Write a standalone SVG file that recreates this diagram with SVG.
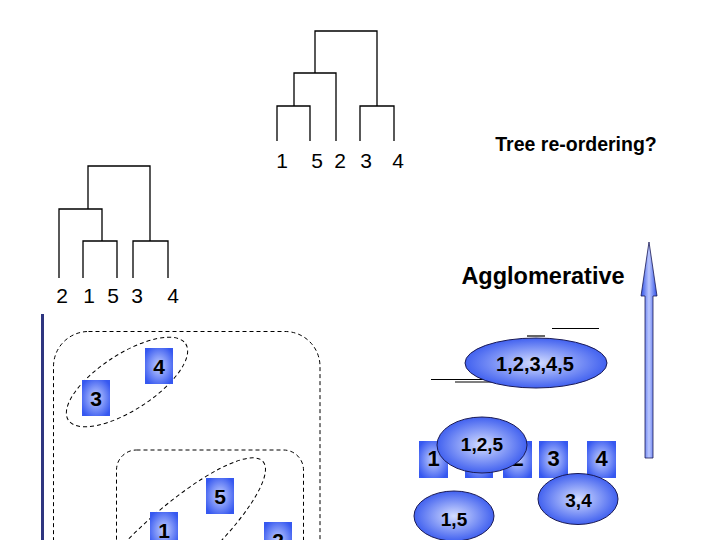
<svg xmlns="http://www.w3.org/2000/svg" width="720" height="540" viewBox="0 0 720 540">
<defs>
<radialGradient id="sq" cx="50%" cy="50%" r="60%">
<stop offset="0" stop-color="#c4d0ff"/>
<stop offset="1" stop-color="#3658f0"/>
</radialGradient>
<radialGradient id="el" cx="50%" cy="50%" r="55%">
<stop offset="0" stop-color="#d4ddff"/>
<stop offset="1" stop-color="#3355ee"/>
</radialGradient>
<linearGradient id="ar" x1="0" y1="0" x2="1" y2="0">
<stop offset="0" stop-color="#2f50e6"/>
<stop offset="0.5" stop-color="#bcc8ff"/>
<stop offset="1" stop-color="#2f50e6"/>
</linearGradient>
</defs>
<style>
.tree{fill:none;stroke:#000;stroke-width:1.3}
.lbl{font-family:"Liberation Sans",Arial,sans-serif;font-size:21px;fill:#000;text-anchor:middle}
.b{font-family:"Liberation Sans",Arial,sans-serif;font-weight:bold;fill:#000;text-anchor:middle}
.sq{fill:url(#sq)}
.el{fill:url(#el);stroke:#1a1a55;stroke-width:1}
.dash{fill:none;stroke:#000;stroke-width:1;stroke-dasharray:4 3}
.ln{stroke:#000;stroke-width:1.2}
</style>
<rect width="720" height="540" fill="#fff"/>

<g id="tree-top">
<path class="tree" d="M315,73 V31 H377 V106 M294,106 V73 H336 V141 M277,141 V106 H310 V141 M360,141 V106 H394 V141"/>
<text class="lbl" x="282" y="168">1</text>
<text class="lbl" x="317" y="168">5</text>
<text class="lbl" x="340" y="168">2</text>
<text class="lbl" x="366" y="168">3</text>
<text class="lbl" x="398" y="168">4</text>
</g>

<g id="tree-left">
<path class="tree" d="M88,209 V166 H150 V241 M59,278 V209 H102 V241 M83,278 V241 H117 V278 M133,278 V241 H168 V278"/>
<text class="lbl" x="62" y="303">2</text>
<text class="lbl" x="89" y="303">1</text>
<text class="lbl" x="113" y="303">5</text>
<text class="lbl" x="137" y="303">3</text>
<text class="lbl" x="173" y="303">4</text>
</g>

<g id="title">
<text class="b" x="576" y="151" font-size="19.5">Tree re-ordering?</text>
</g>
<g id="agglomerative">
<text class="b" x="543" y="284" font-size="23.5">Agglomerative</text>
</g>

<g id="arrow">
<path d="M645,458 V296 H641 L649,242 L657,296 H653 V458 Z" fill="url(#ar)" stroke="#1a1a55" stroke-width="0.8"/>
</g>

<g id="bar">
<line x1="42.5" y1="314" x2="42.5" y2="540" stroke="#2e3580" stroke-width="3"/>
</g>

<g id="divisive-regions">
<rect class="dash" x="53.5" y="331.5" width="266.5" height="260" rx="35" ry="35"/>
<rect class="dash" x="116.5" y="450" width="187" height="140" rx="20" ry="20"/>
<ellipse class="dash" cx="127" cy="382" rx="70" ry="28" transform="rotate(-33 127 382)"/>
<ellipse class="dash" cx="170" cy="545" rx="125" ry="33" transform="rotate(-42 170 545)"/>
</g>

<g id="L4"><rect class="sq" x="145" y="348" width="28" height="36"/><text class="b" x="159" y="374" font-size="21">4</text></g>
<g id="L3"><rect class="sq" x="82" y="380" width="28" height="36"/><text class="b" x="96" y="406" font-size="21">3</text></g>
<g id="L5"><rect class="sq" x="206" y="478" width="28" height="36"/><text class="b" x="220" y="504" font-size="21">5</text></g>
<g id="L1"><rect class="sq" x="150" y="512" width="28" height="36"/><text class="b" x="164" y="538" font-size="21">1</text></g>
<g id="L2"><rect class="sq" x="264" y="522" width="28" height="36"/><text class="b" x="278" y="548" font-size="21">2</text></g>

<g id="connectors">
<line class="ln" x1="552" y1="328.5" x2="599" y2="328.5"/>
<line class="ln" x1="527" y1="336" x2="545" y2="336"/>
<line class="ln" x1="431" y1="379.5" x2="490" y2="379.5"/>
<line class="ln" x1="455" y1="382" x2="495" y2="382"/>
</g>

<g id="R1"><rect class="sq" x="419" y="441" width="29" height="37"/><text class="b" x="433.5" y="466" font-size="22">1</text></g>
<g id="R5"><rect class="sq" x="465" y="441" width="28" height="37"/></g>
<g id="R2"><rect class="sq" x="503" y="441" width="29" height="37"/><text class="b" x="517.5" y="466" font-size="22">2</text></g>
<g id="R3"><rect class="sq" x="539" y="441" width="29" height="37"/><text class="b" x="553.5" y="466" font-size="22">3</text></g>
<g id="R4"><rect class="sq" x="587" y="441" width="29" height="37"/><text class="b" x="601.5" y="466" font-size="22">4</text></g>

<g id="E12345"><ellipse class="el" cx="536" cy="363" rx="71" ry="25"/><text class="b" x="535" y="371" font-size="20">1,2,3,4,5</text></g>
<g id="E125"><ellipse class="el" cx="482" cy="445" rx="45" ry="28"/><text class="b" x="482" y="451" font-size="19">1,2,5</text></g>
<g id="E34"><ellipse class="el" cx="578" cy="499" rx="40" ry="25.5"/><text class="b" x="578.5" y="506.5" font-size="19">3,4</text></g>
<g id="E15"><ellipse class="el" cx="454" cy="516" rx="40" ry="25"/><text class="b" x="454" y="525.5" font-size="19">1,5</text></g>
</svg>
